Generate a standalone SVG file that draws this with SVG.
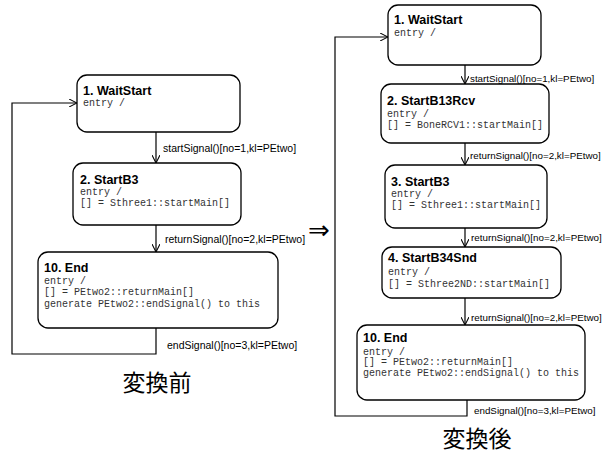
<svg xmlns="http://www.w3.org/2000/svg" width="612" height="459" viewBox="0 0 612 459">
  <style>
    .state { fill: #fff; stroke: #000; stroke-width: 1.3; }
    .title { font-family: "Liberation Sans", Arial, sans-serif; font-weight: bold; font-size: 12.5px; fill: #000; }
    .act { font-family: "Liberation Mono", "DejaVu Sans Mono", monospace; font-size: 10px; fill: #333; }
    .lbl { font-family: "Liberation Sans", Arial, sans-serif; font-size: 10.5px; fill: #000; }
    .lbl.r { font-size: 9.8px; }
    .edge { fill: none; stroke: #000; stroke-width: 1.2; }
    .cap { font-family: "Noto Sans CJK JP", "Noto Sans CJK SC", sans-serif; font-size: 23px; fill: #000; }
  </style>
  <defs>
    <marker id="open" viewBox="0 0 10 10" refX="10" refY="5" markerWidth="8" markerHeight="8" markerUnits="userSpaceOnUse" orient="auto">
      <path d="M0,0 L10,5 L0,10" fill="none" stroke="#000" stroke-width="1.3"/>
    </marker>
  </defs>
  <rect width="612" height="459" fill="#fff"/>

  <!-- before transformation -->
  <g id="L1">
    <rect class="state" x="77" y="75" width="163" height="57" rx="10"/>
    <text class="title" x="83" y="95">1. WaitStart</text>
    <text class="act" x="83" y="106">entry /</text>
  </g>
  <g id="L2">
    <rect class="state" x="73" y="163" width="168" height="62" rx="10"/>
    <text class="title" x="80" y="184">2. StartB3</text>
    <text class="act" x="80" y="195">entry /</text>
    <text class="act" x="80" y="206">[] = Sthree1::startMain[]</text>
  </g>
  <g id="L3">
    <rect class="state" x="38" y="252" width="240" height="76" rx="10"/>
    <text class="title" x="44" y="272">10. End</text>
    <text class="act" x="44" y="284">entry /</text>
    <text class="act" x="44" y="295">[] = PEtwo2::returnMain[]</text>
    <text class="act" x="44" y="307">generate PEtwo2::endSignal() to this</text>
  </g>

  <!-- after transformation -->
  <g id="R1">
    <rect class="state" x="388" y="5" width="153" height="60" rx="10"/>
    <text class="title" x="394" y="24">1. WaitStart</text>
    <text class="act" x="394" y="36">entry /</text>
  </g>
  <g id="R2">
    <rect class="state" x="381" y="84" width="168" height="59" rx="10"/>
    <text class="title" x="387" y="105">2. StartB13Rcv</text>
    <text class="act" x="387" y="117">entry /</text>
    <text class="act" x="387" y="128">[] = BoneRCV1::startMain[]</text>
  </g>
  <g id="R3">
    <rect class="state" x="385" y="165" width="162" height="63" rx="10"/>
    <text class="title" x="391" y="186">3. StartB3</text>
    <text class="act" x="391" y="197">entry /</text>
    <text class="act" x="391" y="208">[] = Sthree1::startMain[]</text>
  </g>
  <g id="R4">
    <rect class="state" x="382" y="247" width="179" height="51" rx="10"/>
    <text class="title" x="388" y="262">4. StartB34Snd</text>
    <text class="act" x="388" y="275">entry /</text>
    <text class="act" x="388" y="287">[] = Sthree2ND::startMain[]</text>
  </g>
  <g id="R5">
    <rect class="state" x="357" y="325" width="228" height="75" rx="10"/>
    <text class="title" x="363" y="342">10. End</text>
    <text class="act" x="363" y="355">entry /</text>
    <text class="act" x="363" y="365">[] = PEtwo2::returnMain[]</text>
    <text class="act" x="363" y="376">generate PEtwo2::endSignal() to this</text>
  </g>

  <g id="connectors">
    <path class="edge" d="M156,132 V163" marker-end="url(#open)"/>
    <path class="edge" d="M156,225 V252" marker-end="url(#open)"/>
    <path class="edge" d="M156,328 V354 H12 V103 H77" marker-end="url(#open)"/>

    <path class="edge" d="M465,65 V84" marker-end="url(#open)"/>
    <path class="edge" d="M465,143 V165" marker-end="url(#open)"/>
    <path class="edge" d="M465,228 V247" marker-end="url(#open)"/>
    <path class="edge" d="M465,298 V325" marker-end="url(#open)"/>
    <path class="edge" d="M467,400 V416 H335 V37 H388" marker-end="url(#open)"/>
  </g>

  <g id="labels">
    <text class="lbl" x="163" y="152">startSignal()[no=1,kl=PEtwo]</text>
    <text class="lbl" x="165" y="243">returnSignal()[no=2,kl=PEtwo]</text>
    <text class="lbl" x="167" y="349">endSignal()[no=3,kl=PEtwo]</text>

    <text class="lbl r" x="470" y="82">startSignal()[no=1,kl=PEtwo]</text>
    <text class="lbl r" x="470" y="159">returnSignal()[no=2,kl=PEtwo]</text>
    <text class="lbl r" x="471" y="241">returnSignal()[no=2,kl=PEtwo]</text>
    <text class="lbl r" x="471" y="321">returnSignal()[no=2,kl=PEtwo]</text>
    <text class="lbl r" x="474" y="414">endSignal()[no=3,kl=PEtwo]</text>
  </g>

  <text x="319" y="239" font-family="DejaVu Sans, sans-serif" font-size="26" text-anchor="middle">⇒</text>

  <text class="cap" x="157" y="391" text-anchor="middle">変換前</text>
  <text class="cap" x="477" y="447" text-anchor="middle">変換後</text>
</svg>
